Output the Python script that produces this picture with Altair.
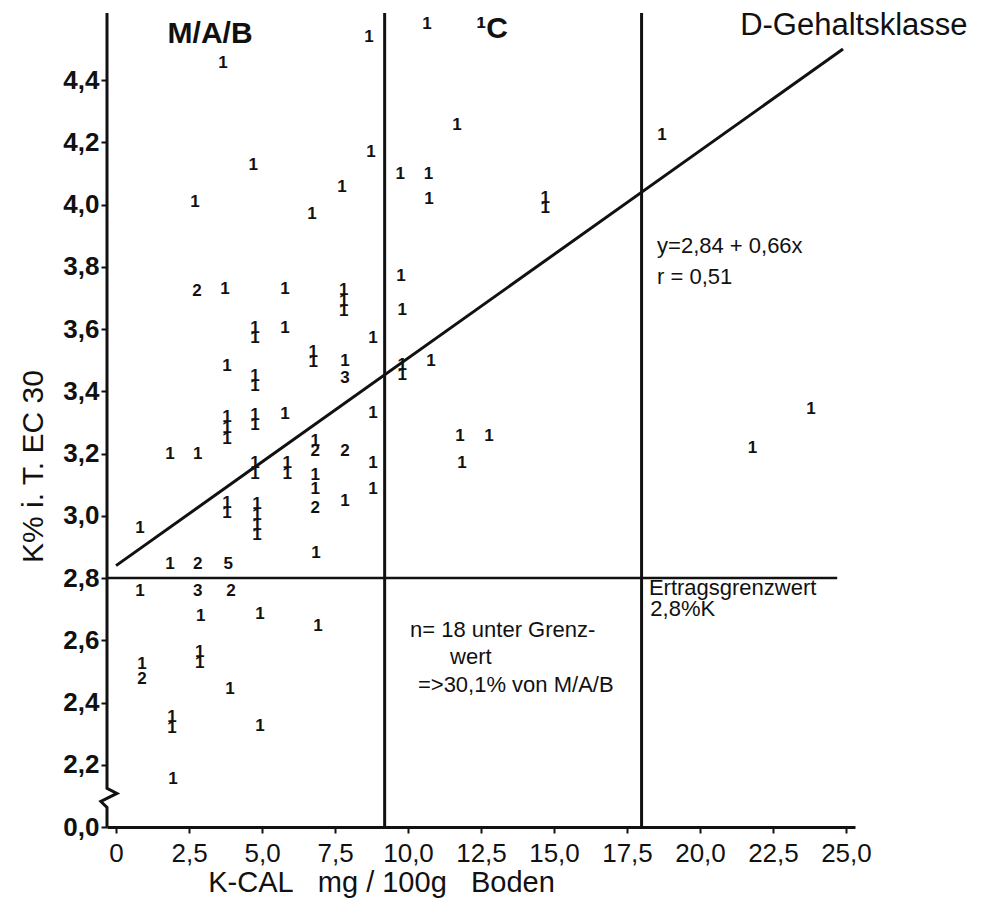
import altair as alt
import pandas as pd

# ---- data points (K-CAL x, K% y, count label) ----
pt_x = [0.82, 0.82, 0.89, 0.89,
        1.85, 1.85, 1.92, 1.92, 1.95,
        2.70, 2.77, 2.80, 2.80, 2.80, 2.90, 2.87, 2.87,
        3.66, 3.73, 3.80, 3.80, 3.80, 3.80, 3.80, 3.80, 3.84, 3.94, 3.90,
        4.70, 4.76, 4.76, 4.76, 4.76, 4.76, 4.76, 4.76, 4.76, 4.83, 4.83, 4.83, 4.83, 4.93, 4.93,
        5.79, 5.79, 5.79, 5.86, 5.86,
        6.71, 6.75, 6.75, 6.82, 6.82, 6.82, 6.82, 6.82, 6.85, 6.92,
        7.74, 7.80, 7.80, 7.80, 7.84, 7.84, 7.84, 7.84,
        8.66, 8.73, 8.80, 8.80, 8.80, 8.80,
        9.73, 9.76, 9.80, 9.80, 9.80,
        10.65, 10.70, 10.72, 10.79,
        11.68, 11.78, 11.85,
        12.77,
        14.70, 14.70,
        18.70, 21.80, 23.80]
pt_y = [2.96, 2.758, 2.523, 2.475,
        3.20, 2.845, 2.352, 2.318, 2.153,
        4.007, 3.724, 3.20, 2.845, 2.76, 2.678, 2.562, 2.528,
        4.455, 3.73, 3.483, 3.318, 3.283, 3.248, 3.042, 3.008, 2.845, 2.76, 2.443,
        4.126, 3.604, 3.571, 3.449, 3.416, 3.324, 3.291, 3.169, 3.136, 3.037, 3.004, 2.971, 2.938, 2.684, 2.324,
        3.73, 3.605, 3.328, 3.169, 3.136,
        3.97, 3.527, 3.493, 3.242, 3.208, 3.13, 3.085, 3.025, 2.88, 2.645,
        4.056, 3.726, 3.692, 3.658, 3.499, 3.444, 3.209, 3.048,
        4.54, 4.17, 3.573, 3.331, 3.17, 3.087,
        4.10, 3.772, 3.66, 3.486, 3.453,
        4.58, 4.10, 4.017, 3.499,
        4.255, 3.257, 3.17,
        3.257,
        4.022, 3.988,
        4.223, 3.218, 3.344]
pt_label = ["1", "1", "1", "2",
            "1", "1", "1", "1", "1",
            "1", "2", "1", "2", "3", "1", "1", "1",
            "1", "1", "1", "1", "1", "1", "1", "1", "5", "2", "1",
            "1", "1", "1", "1", "1", "1", "1", "1", "1", "1", "1", "1", "1", "1", "1",
            "1", "1", "1", "1", "1",
            "1", "1", "1", "1", "2", "1", "1", "2", "1", "1",
            "1", "1", "1", "1", "1", "3", "2", "1",
            "1", "1", "1", "1", "1", "1",
            "1", "1", "1", "1", "1",
            "1", "1", "1", "1",
            "1", "1", "1",
            "1",
            "1", "1",
            "1", "1", "1"]

# regression line end points (y = 2,84 + 0,066x)
reg_x = [0.0, 24.9]
reg_y = [2.84, 4.50]

# class boundaries and yield threshold
class_bounds = [9.2, 18.0]
threshold_y = 2.8
threshold_x = [-0.31, 24.7]

# y axis line with the axis break
axis_line_x = [-0.31, -0.31, 0.03, -0.52, -0.31, -0.31]
axis_line_y = [4.616, 2.124, 2.108, 2.082, 2.063, 2.0]

x_ticks = [0, 2.5, 5, 7.5, 10, 12.5, 15, 17.5, 20, 22.5, 25]
x_tick_labels = ["0", "2,5", "5,0", "7,5", "10,0", "12,5", "15,0", "17,5", "20,0", "22,5", "25,0"]
y_ticks = [2.0, 2.2, 2.4, 2.6, 2.8, 3.0, 3.2, 3.4, 3.6, 3.8, 4.0, 4.2, 4.4]
y_tick_labels = ["0,0", "2,2", "2,4", "2,6", "2,8", "3,0", "3,2", "3,4", "3,6", "3,8", "4,0", "4,2", "4,4"]

X_DOMAIN = [-0.31, 25.31]
Y_DOMAIN = [2.0, 4.616]
FONT = "Liberation Sans"
INK = "#111111"

xs = alt.Scale(domain=X_DOMAIN, nice=False, zero=False)
ys = alt.Scale(domain=Y_DOMAIN, nice=False, zero=False)


def label_expr(values, labels):
    v = "[" + ",".join(repr(float(a)) for a in values) + "]"
    l = "[" + ",".join("'" + s + "'" for s in labels) + "]"
    return f"{l}[indexof({v}, datum.value)]"


x_axis = alt.Axis(
    values=x_ticks, labelExpr=label_expr(x_ticks, x_tick_labels),
    grid=False, domainWidth=3, domainColor=INK, tickColor=INK, tickWidth=2, tickSize=6,
    labelFont=FONT, labelFontSize=26, labelColor=INK, labelPadding=7,
    title="K-CAL\u00a0\u00a0 mg / 100g\u00a0\u00a0 Boden", titleFont=FONT, titleFontSize=29,
    titleFontWeight="normal", titleColor=INK, titleX=274, titleY=55,
    titleBaseline="middle", titleAlign="center")
y_axis = alt.Axis(
    values=y_ticks, labelExpr=label_expr(y_ticks, y_tick_labels),
    grid=False, domain=False, tickColor=INK, tickWidth=2, tickSize=6,
    labelFont=FONT, labelFontSize=26, labelFontWeight="bold", labelColor=INK, labelPadding=2,
    title="K% i. T. EC 30", titleFont=FONT, titleFontSize=30, titleFontWeight="normal",
    titleColor=INK, titleX=-74, titleY=453, titleAngle=270,
    titleBaseline="middle", titleAlign="center")

X = alt.X("x:Q", scale=xs, axis=x_axis)
Y = alt.Y("y:Q", scale=ys, axis=y_axis)

points = pd.DataFrame({"x": pt_x, "y": pt_y, "label": pt_label})
base_points = alt.Chart(points).mark_text(
    font=FONT, fontSize=17, fontWeight="bold", color=INK, align="center", baseline="middle"
).encode(x=X, y=Y, text="label:N")

axis_df = pd.DataFrame({"x": axis_line_x, "y": axis_line_y, "o": list(range(len(axis_line_x)))})
axis_line = alt.Chart(axis_df).mark_line(color=INK, strokeWidth=3).encode(x=X, y=Y, order="o:Q")

reg_df = pd.DataFrame({"x": reg_x, "y": reg_y})
reg_line = alt.Chart(reg_df).mark_line(color=INK, strokeWidth=3).encode(x=X, y=Y)

bounds_df = pd.DataFrame({"x": class_bounds, "y": [Y_DOMAIN[0]] * 2, "y2": [Y_DOMAIN[1]] * 2})
bounds = alt.Chart(bounds_df).mark_rule(color=INK, strokeWidth=3).encode(x=X, y=Y, y2="y2:Q")

thr_df = pd.DataFrame({"x": [threshold_x[0]], "x2": [threshold_x[1]], "y": [threshold_y]})
thr = alt.Chart(thr_df).mark_rule(color=INK, strokeWidth=2.5).encode(x=X, x2="x2:Q", y=Y)

# annotation texts
head_df = pd.DataFrame({"t": ["M/A/B", "\u00b9C"], "x": [3.22, 12.88], "y": [4.548, 4.564]})
heads = alt.Chart(head_df).mark_text(
    font=FONT, fontSize=30, fontWeight="bold", color=INK, align="center", baseline="middle"
).encode(x=X, y=Y, text="t:N")

dhead_df = pd.DataFrame({"t": ["D-Gehaltsklasse"], "x": [25.27], "y": [4.574]})
dhead = alt.Chart(dhead_df).mark_text(
    font=FONT, fontSize=31, color=INK, align="center", baseline="middle"
).encode(x=X, y=Y, text="t:N")

note_df = pd.DataFrame({
    "t": ["y=2,84 + 0,66x", "r = 0,51", "Ertragsgrenzwert", "2,8%K",
          "n= 18 unter Grenz-", "wert", "=>30,1% von M/A/B"],
    "x": [18.53, 18.53, 18.25, 18.3, 10.07, 11.44, 10.34],
    "y": [3.866, 3.766, 2.768, 2.700, 2.633, 2.546, 2.455],
})
notes = alt.Chart(note_df).mark_text(
    font=FONT, fontSize=22, color=INK, align="left", baseline="middle"
).encode(x=X, y=Y, text="t:N")

chart = alt.layer(
    base_points, axis_line, reg_line, bounds, thr, heads, dhead, notes
).properties(
    width=748, height=814,
    autosize=alt.AutoSizeParams(type="none"),
    padding={"left": 99, "top": 5, "right": 126, "bottom": 76},
    background="white",
).configure_view(strokeWidth=0)

chart.save("out.html", embed_options={"renderer": "svg", "actions": False})
